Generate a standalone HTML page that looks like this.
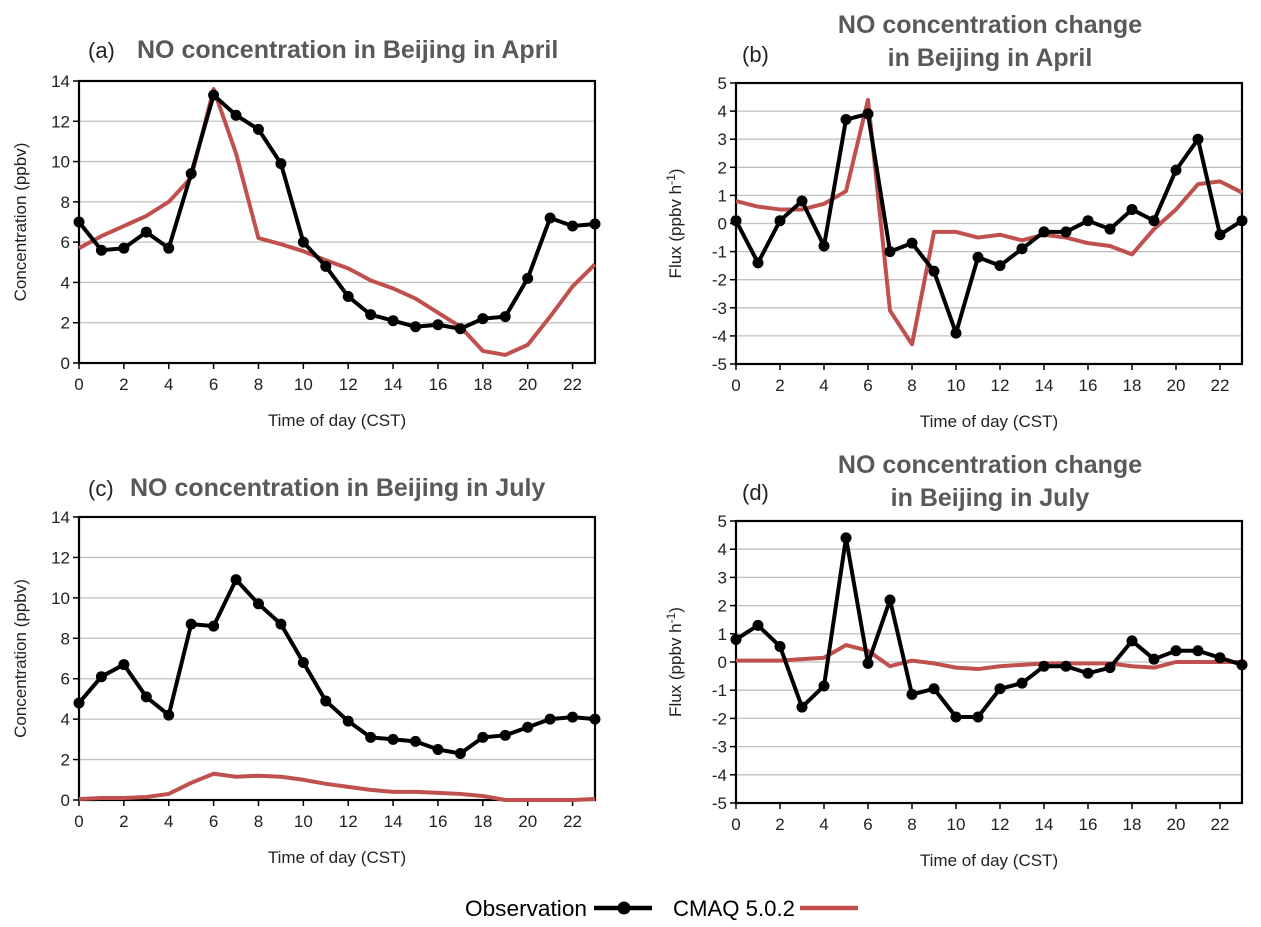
<!DOCTYPE html>
<html><head><meta charset="utf-8"><style>
html,body{margin:0;padding:0;background:#fff;}
svg{display:block;font-family:"Liberation Sans",sans-serif;}
</style></head><body>
<svg id="root" width="1261" height="927" viewBox="0 0 1261 927"></svg>
<script>
const hours = [0,1,2,3,4,5,6,7,8,9,10,11,12,13,14,15,16,17,18,19,20,21,22,23];
const xTickLabels = [0,2,4,6,8,10,12,14,16,18,20,22];
const concTicks = [0,2,4,6,8,10,12,14];
const fluxTicks = [-5,-4,-3,-2,-1,0,1,2,3,4,5];
const obsA = [7.0,5.6,5.7,6.5,5.7,9.4,13.3,12.3,11.6,9.9,6.0,4.8,3.3,2.4,2.1,1.8,1.9,1.7,2.2,2.3,4.2,7.2,6.8,6.9];
const cmaqA = [5.7,6.3,6.8,7.3,8.0,9.2,13.6,10.4,6.2,5.9,5.55,5.1,4.7,4.1,3.7,3.2,2.5,1.8,0.6,0.4,0.9,2.3,3.8,4.9];
const obsB = [0.1,-1.4,0.1,0.8,-0.8,3.7,3.9,-1.0,-0.7,-1.7,-3.9,-1.2,-1.5,-0.9,-0.3,-0.3,0.1,-0.2,0.5,0.1,1.9,3.0,-0.4,0.1];
const cmaqB = [0.8,0.6,0.5,0.5,0.7,1.15,4.4,-3.1,-4.3,-0.3,-0.3,-0.5,-0.4,-0.6,-0.4,-0.5,-0.7,-0.8,-1.1,-0.2,0.5,1.4,1.5,1.1];
const obsC = [4.8,6.1,6.7,5.1,4.2,8.7,8.6,10.9,9.7,8.7,6.8,4.9,3.9,3.1,3.0,2.9,2.5,2.3,3.1,3.2,3.6,4.0,4.1,4.0];
const cmaqC = [0.05,0.1,0.1,0.15,0.3,0.85,1.3,1.15,1.2,1.15,1.0,0.8,0.65,0.5,0.4,0.4,0.35,0.3,0.2,0,0,0,0,0.05];
const obsD = [0.8,1.3,0.55,-1.6,-0.85,4.4,-0.05,2.2,-1.15,-0.95,-1.95,-1.95,-0.95,-0.75,-0.15,-0.15,-0.4,-0.2,0.75,0.1,0.4,0.4,0.15,-0.1];
const cmaqD = [0.05,0.05,0.05,0.1,0.15,0.6,0.4,-0.15,0.05,-0.05,-0.2,-0.25,-0.15,-0.1,-0.05,-0.05,-0.05,-0.05,-0.15,-0.2,0,0,0,0];

const NS="http://www.w3.org/2000/svg";
const root=document.getElementById('root');
function mk(tag,attrs,parent){const e=document.createElementNS(NS,tag);for(const k in attrs)e.setAttribute(k,attrs[k]);(parent||root).appendChild(e);return e;}
function txt(s,attrs,parent){const e=mk('text',attrs,parent);e.textContent=s;return e;}

function panel(cfg){
  const g=mk('g',{});
  
  
  const {x0,x1,y0,y1,ymin,ymax}=cfg;
  const sx=h=>x0+(h-0)/(23-0)*(x1-x0);
  const sy=v=>y1-(v-ymin)/(ymax-ymin)*(y1-y0);
  cfg.yTicks.forEach(t=>{
    if(t!==ymin && t!==ymax){
      const l=mk('line',{x1:x0,x2:x1,y1:sy(t),y2:sy(t),stroke:'#c0c0c0','stroke-width':1.3},g);
      
      
    }
    const tl=txt(String(t),{x:x0-9,y:sy(t)+6,'text-anchor':'end','font-size':17,fill:'#222'},g);
    
    
    mk('line',{x1:x0-6,x2:x0,y1:sy(t),y2:sy(t),stroke:'#000','stroke-width':1.5},g);
  });
  xTickLabels.forEach(h=>{
    mk('line',{x1:sx(h),x2:sx(h),y1:y1,y2:y1+6,stroke:'#000','stroke-width':1.5},g);
    const tl=txt(String(h),{x:sx(h),y:y1+27,'text-anchor':'middle','font-size':17,fill:'#222'},g);
    
    
  });
  const fr=mk('rect',{x:x0,y:y0,width:x1-x0,height:y1-y0,fill:'none',stroke:'#000','stroke-width':2.2},g);
  
  
  const cp=mk('polyline',{points:hours.map((h,i)=>sx(h)+','+sy(cfg.cmaq[i])).join(' '),fill:'none',stroke:'#c0504d','stroke-width':4,'stroke-linejoin':'round'},g);
  
  
  const op=mk('polyline',{points:hours.map((h,i)=>sx(h)+','+sy(cfg.obs[i])).join(' '),fill:'none',stroke:'#000','stroke-width':4,'stroke-linejoin':'round'},g);
  
  
  hours.forEach((h,i)=>{
    const c=mk('circle',{cx:sx(h),cy:sy(cfg.obs[i]),r:5.5,fill:'#000'},g);
    
    
  });
  const xt=txt('Time of day (CST)',{x:(x0+x1)/2,y:y1+63,'text-anchor':'middle','font-size':17,fill:'#222'},g);
  
  
  const yt=txt('',{transform:`translate(${cfg.ytx},${(y0+y1)/2}) rotate(-90)`,'text-anchor':'middle','font-size':17,fill:'#222'},g);
  
  
  if(cfg.flux){
    yt.appendChild(document.createTextNode('Flux (ppbv h'));
    const sup=document.createElementNS(NS,'tspan');sup.setAttribute('dy','-6');sup.setAttribute('font-size','12');sup.textContent='-1';yt.appendChild(sup);
    const cl=document.createElementNS(NS,'tspan');cl.setAttribute('dy','6');cl.textContent=')';yt.appendChild(cl);
  } else yt.textContent='Concentration (ppbv)';
  const lab=txt(cfg.label,{x:cfg.labX,y:cfg.labY,'font-size':22,fill:'#222'},g);
  
  
  cfg.title.forEach((t,k)=>{
    const tt=txt(t,{x:cfg.titleX,y:cfg.titleY+k*33,'text-anchor':cfg.anchor,'font-size':25,'font-weight':'bold',fill:'#595959'},g);
    
    
  });
}
panel({name:'panel-a',x0:79,x1:595,y0:81,y1:363,ymin:0,ymax:14,yTicks:concTicks,obs:obsA,cmaq:cmaqA,ytx:26,label:'(a)',labX:88,labY:58,title:['NO concentration in Beijing in April'],titleX:137,titleY:58,anchor:'start'});
panel({name:'panel-b',x0:736,x1:1242,y0:83,y1:364,ymin:-5,ymax:5,yTicks:fluxTicks,obs:obsB,cmaq:cmaqB,ytx:681,flux:true,label:'(b)',labX:742,labY:62,title:['NO concentration change','in Beijing in April'],titleX:990,titleY:33,anchor:'middle'});
panel({name:'panel-c',x0:79,x1:595,y0:517,y1:800,ymin:0,ymax:14,yTicks:concTicks,obs:obsC,cmaq:cmaqC,ytx:26,label:'(c)',labX:88,labY:496,title:['NO concentration in Beijing in July'],titleX:130,titleY:496,anchor:'start'});
panel({name:'panel-d',x0:736,x1:1242,y0:521,y1:803,ymin:-5,ymax:5,yTicks:fluxTicks,obs:obsD,cmaq:cmaqD,ytx:681,flux:true,label:'(d)',labX:742,labY:500,title:['NO concentration change','in Beijing in July'],titleX:990,titleY:473,anchor:'middle'});

const lg=mk('g',{});


const l1=txt('Observation',{x:465,y:916,'font-size':22,fill:'#000',textLength:122,lengthAdjust:'spacingAndGlyphs'},lg);


mk('line',{x1:594,x2:652,y1:908,y2:908,stroke:'#000','stroke-width':4.5},lg);
mk('circle',{cx:624,cy:908,r:6.5,fill:'#000'},lg);
const l2=txt('CMAQ 5.0.2',{x:673,y:916,'font-size':22,fill:'#000',textLength:122,lengthAdjust:'spacingAndGlyphs'},lg);


mk('line',{x1:800,x2:858,y1:908,y2:908,stroke:'#c0504d','stroke-width':4.5},lg);
</script>
</body></html>
